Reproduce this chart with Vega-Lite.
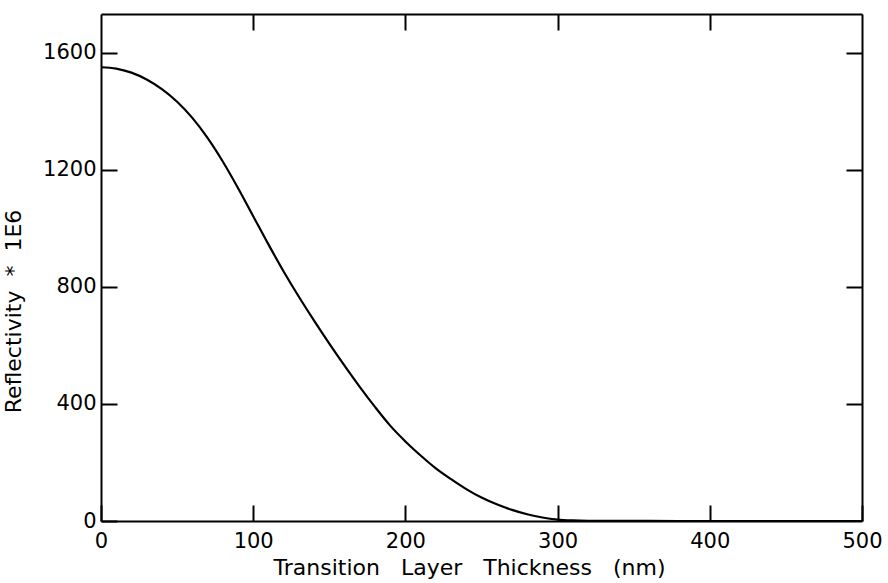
{
  "$schema": "https://vega.github.io/schema/vega-lite/v6.json",
  "autosize": "none",
  "padding": {"left": 101, "top": 14, "right": 26, "bottom": 62},
  "width": 761,
  "height": 507,
  "background": "white",
  "config": {
    "view": {"stroke": null},
    "font": "DejaVu Sans",
    "axis": {
      "domainColor": "black", "domainWidth": 2,
      "tickColor": "black", "tickWidth": 2, "tickSize": -16,
      "labelColor": "black", "labelFont": "DejaVu Sans", "labelFontSize": 21,
      "titleColor": "black", "titleFont": "DejaVu Sans", "titleFontSize": 22, "titleFontWeight": "normal",
      "grid": false
    }
  },
  "data": {"values": [
    {"t": 0, "r": 1551}, {"t": 10, "r": 1546.5}, {"t": 20, "r": 1532.5}, {"t": 30, "r": 1509},
    {"t": 40, "r": 1476}, {"t": 50, "r": 1433}, {"t": 60, "r": 1378}, {"t": 70, "r": 1309.5},
    {"t": 80, "r": 1229}, {"t": 90, "r": 1138.5}, {"t": 100, "r": 1042}, {"t": 110, "r": 945.5},
    {"t": 120, "r": 853}, {"t": 130, "r": 766.5}, {"t": 140, "r": 685}, {"t": 150, "r": 606.5},
    {"t": 160, "r": 531}, {"t": 170, "r": 458.5}, {"t": 180, "r": 390}, {"t": 190, "r": 326},
    {"t": 200, "r": 272}, {"t": 210, "r": 224}, {"t": 220, "r": 180}, {"t": 230, "r": 143},
    {"t": 240, "r": 109}, {"t": 250, "r": 80}, {"t": 260, "r": 57}, {"t": 270, "r": 38},
    {"t": 280, "r": 23}, {"t": 290, "r": 12}, {"t": 300, "r": 5}, {"t": 310, "r": 2},
    {"t": 320, "r": 0.8}, {"t": 340, "r": 0.3}, {"t": 360, "r": 0.1}, {"t": 400, "r": 0},
    {"t": 450, "r": 0}, {"t": 500, "r": 0}
  ]},
  "layer": [
    {
      "mark": {"type": "line", "color": "black", "strokeWidth": 2.2, "interpolate": "monotone", "clip": true},
      "encoding": {
        "x": {"field": "t", "type": "quantitative",
          "scale": {"domain": [0, 500], "nice": false},
          "axis": {"orient": "bottom", "values": [0, 100, 200, 300, 400, 500], "format": "d", "labelPadding": 25,
            "title": "Transition\u00a0\u00a0\u00a0Layer\u00a0\u00a0\u00a0Thickness\u00a0\u00a0\u00a0(nm)", "titlePadding": 6, "titleX": 368, "labelFlush": false}},
        "y": {"field": "r", "type": "quantitative",
          "scale": {"domain": [0, 1733], "nice": false, "zero": true},
          "axis": {"orient": "left", "values": [0, 400, 800, 1200, 1600], "format": "d", "labelPadding": 21,
            "title": "Reflectivity\u00a0\u00a0*\u00a0\u00a01E6", "titleX": -76, "titleY": 297, "labelFlush": false}}
      }
    },
    {
      "mark": {"type": "line", "opacity": 0},
      "encoding": {
        "x": {"field": "t", "type": "quantitative",
          "scale": {"domain": [0, 500], "nice": false},
          "axis": {"orient": "top", "values": [100, 200, 300, 400], "labels": false, "title": null}},
        "y": {"field": "r", "type": "quantitative",
          "scale": {"domain": [0, 1733], "nice": false},
          "axis": {"orient": "right", "values": [400, 800, 1200, 1600], "labels": false, "title": null}}
      }
    }
  ],
  "resolve": {"scale": {"x": "independent", "y": "independent"}, "axis": {"x": "independent", "y": "independent"}}
}
